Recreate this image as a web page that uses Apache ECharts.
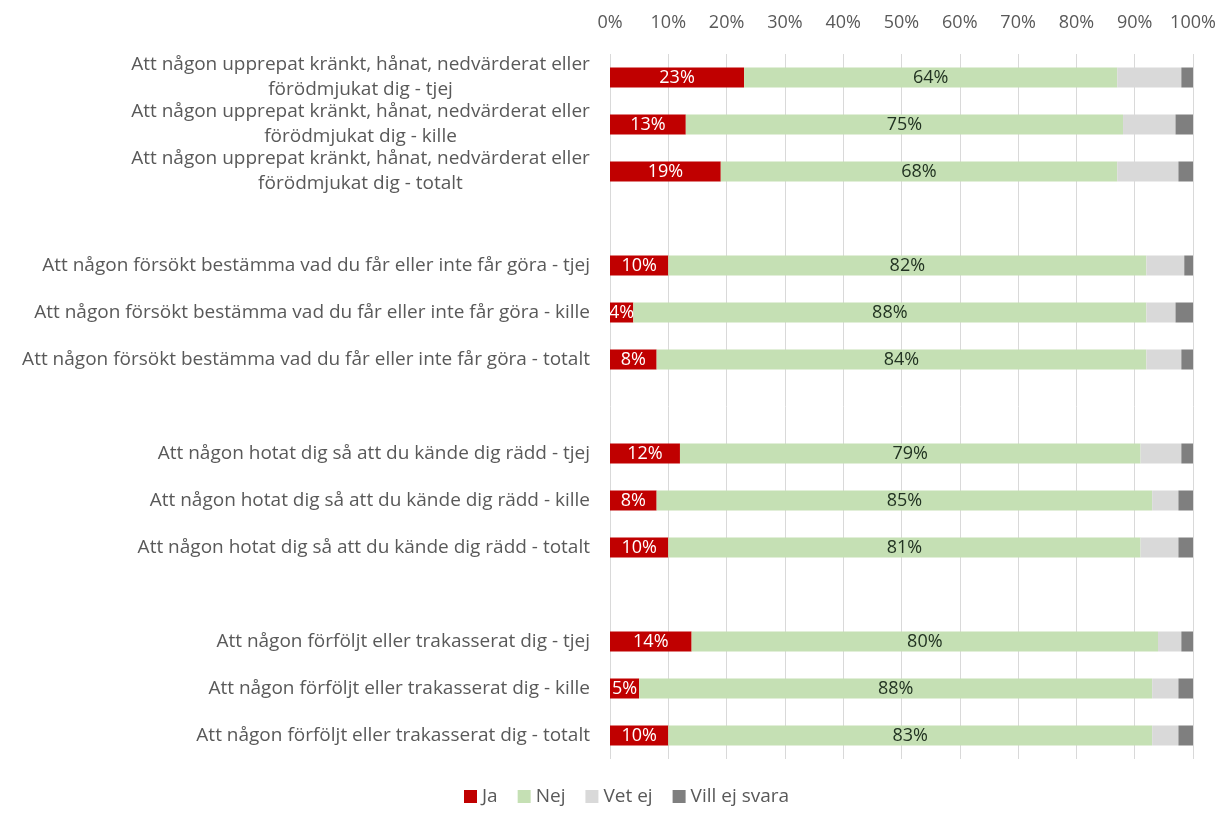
<!DOCTYPE html>
<html>
<head>
<meta charset="utf-8">
<script src="https://cdn.jsdelivr.net/npm/echarts@6/dist/echarts.min.js"></script>
<style>
  html, body { margin: 0; padding: 0; background: #fff; }
  #chart { width: 1219px; height: 814px; }
</style>
</head>
<body>
<div id="chart"></div>
<script>
// categories, top to bottom (blank entries are the gaps between groups)
var categories = [
  'Att någon upprepat kränkt, hånat, nedvärderat eller\nförödmjukat dig - tjej',
  'Att någon upprepat kränkt, hånat, nedvärderat eller\nförödmjukat dig - kille',
  'Att någon upprepat kränkt, hånat, nedvärderat eller\nförödmjukat dig - totalt',
  ' ',
  'Att någon försökt bestämma vad du får eller inte får göra - tjej',
  'Att någon försökt bestämma vad du får eller inte får göra - kille',
  'Att någon försökt bestämma vad du får eller inte får göra - totalt',
  '  ',
  'Att någon hotat dig så att du kände dig rädd - tjej',
  'Att någon hotat dig så att du kände dig rädd - kille',
  'Att någon hotat dig så att du kände dig rädd - totalt',
  '   ',
  'Att någon förföljt eller trakasserat dig - tjej',
  'Att någon förföljt eller trakasserat dig - kille',
  'Att någon förföljt eller trakasserat dig - totalt'
];

var ja      = [23, 13, 19, null, 10, 4, 8, null, 12, 8, 10, null, 14, 5, 10];
var nej     = [64, 75, 68, null, 82, 88, 84, null, 79, 85, 81, null, 80, 88, 83];
var vetEj   = [11, 9, 10.5, null, 6.5, 5, 6, null, 7, 4.5, 6.5, null, 4, 4.5, 4.5];
var villEj  = [2, 3, 2.5, null, 1.5, 3, 2, null, 2, 2.5, 2.5, null, 2, 2.5, 2.5];

var xTicks = [0, 10, 20, 30, 40, 50, 60, 70, 80, 90, 100];

var FONT = 'Open Sans';
var LABEL_SIZE = 19;

// width of the widest line in the wrapped labels, so those lines can be centred
var measure = document.createElement('canvas').getContext('2d');
measure.font = LABEL_SIZE + 'px "' + FONT + '"';
var wrapWidth = 0;
categories.forEach(function (c) {
  if (c.indexOf('\n') >= 0) {
    c.split('\n').forEach(function (l) {
      wrapWidth = Math.max(wrapWidth, Math.ceil(measure.measureText(l).width));
    });
  }
});

var chart = echarts.init(document.getElementById('chart'), null, { renderer: 'canvas' });

function pct(p) { return p.value == null ? '' : Math.round(p.value) + '%'; }

var option = {
  animation: false,
  backgroundColor: '#fff',
  textStyle: { fontFamily: FONT },
  grid: { left: 610, right: 26, top: 54, bottom: 55, containLabel: false },
  legend: {
    bottom: 3,
    left: 459,
    itemWidth: 13,
    itemHeight: 13,
    itemGap: 20,
    icon: 'rect',
    textStyle: { fontFamily: FONT, fontSize: 19, color: '#595959' },
    data: ['Ja', 'Nej', 'Vet ej', 'Vill ej svara']
  },
  xAxis: {
    type: 'value',
    position: 'top',
    min: xTicks[0],
    max: xTicks[xTicks.length - 1],
    interval: 10,
    axisLine: { show: false },
    axisTick: { show: false },
    axisLabel: {
      formatter: '{value}%',
      fontFamily: FONT,
      fontSize: 18,
      color: '#595959',
      margin: 22
    },
    splitLine: { show: true, lineStyle: { color: '#D9D9D9', width: 1 } }
  },
  yAxis: {
    type: 'category',
    inverse: true,
    data: categories,
    axisLine: { show: false },
    axisTick: { show: false },
    axisLabel: {
      interval: 0,
      fontFamily: FONT,
      fontSize: LABEL_SIZE,
      color: '#595959',
      margin: 20,
      lineHeight: 25,
      align: 'right',
      formatter: function (v) {
        if (v.indexOf('\n') < 0) return v;
        return v.split('\n').map(function (l) { return '{c|' + l + '}'; }).join('\n');
      },
      rich: {
        c: {
          width: wrapWidth,
          align: 'center',
          fontFamily: FONT,
          fontSize: LABEL_SIZE,
          color: '#595959',
          lineHeight: 25
        }
      }
    }
  },
  series: [
    {
      name: 'Ja', type: 'bar', stack: 'tot', barWidth: 20,
      itemStyle: { color: '#C00000' },
      label: { show: true, position: 'inside', formatter: pct, color: '#fff', fontFamily: FONT, fontSize: 18 },
      data: ja
    },
    {
      name: 'Nej', type: 'bar', stack: 'tot', barWidth: 20,
      itemStyle: { color: '#C5E0B4' },
      label: { show: true, position: 'inside', formatter: pct, color: '#223322', fontFamily: FONT, fontSize: 18 },
      data: nej
    },
    {
      name: 'Vet ej', type: 'bar', stack: 'tot', barWidth: 20,
      itemStyle: { color: '#D9D9D9' },
      data: vetEj
    },
    {
      name: 'Vill ej svara', type: 'bar', stack: 'tot', barWidth: 20,
      itemStyle: { color: '#7F7F7F' },
      data: villEj
    }
  ]
};

chart.setOption(option);
</script>
</body>
</html>
